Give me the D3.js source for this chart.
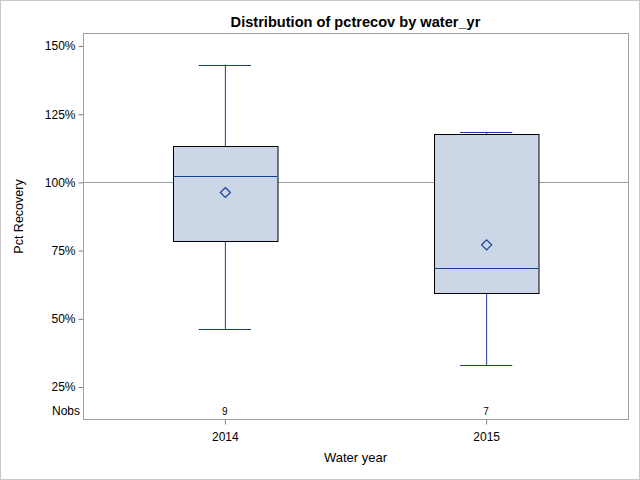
<html>
<head>
<script src="https://d3js.org/d3.v7.min.js"></script>
<style>
  body { margin: 0; background: #fff; }
  text { font-family: "Liberation Sans", Arial, sans-serif; fill: #000; }
</style>
</head>
<body>
<script>
    // data
    const years = ["2014", "2015"];
    const nobs = [9, 7];
    const mins = [46.2, 33.0];
    const q1s = [78.4, 59.4];
    const medians = [102.2, 68.5];
    const means = [96.3, 77.1];
    const q3s = [113.2, 117.6];
    const maxs = [143.2, 118.3];
    const yTicks = [25, 50, 75, 100, 125, 150];
    const refValue = 100;

    let width = 640, height = 480;
    let svg = d3.select("body").append("svg")
        .attr("width", width)
        .attr("height", height);

    // outer frame
    svg.append("rect")
        .attr("x", 0.5).attr("y", 0.5)
        .attr("width", width - 1).attr("height", height - 1)
        .attr("fill", "white").attr("stroke", "#c8c8c8");

    const pLeft = 83, pRight = 628, pTop = 33, pBottom = 419;

    let x = d3.scalePoint().domain(years).range([pLeft, pRight]).padding(0.543);
    let y = d3.scaleLinear().domain([25, 150]).range([387, 46]);
    let boxW = x.step() * 0.4;

    svg.append("text")
        .attr("x", (pLeft + pRight) / 2).attr("y", 27)
        .attr("text-anchor", "middle")
        .attr("font-size", 14.6).attr("font-weight", "bold")
        .text("Distribution of pctrecov by water_yr");

    // reference line
    svg.append("line")
        .attr("x1", pLeft).attr("x2", pRight)
        .attr("y1", Math.round(y(refValue)) + 0.5).attr("y2", Math.round(y(refValue)) + 0.5)
        .attr("stroke", "#a0a0a0");

    let data = years.map((yr, i) => ({
        yr: yr, n: nobs[i], min: mins[i], q1: q1s[i], med: medians[i],
        mean: means[i], q3: q3s[i], max: maxs[i]
    }));

    const blue = "#15409a";
    let g = svg.selectAll(".box").data(data).join("g").attr("class", "box");

    // whiskers
    g.append("line")
        .attr("x1", d => x(d.yr) + 0.5).attr("x2", d => x(d.yr) + 0.5)
        .attr("y1", d => y(d.max)).attr("y2", d => y(d.q3))
        .attr("stroke", blue);
    g.append("line")
        .attr("x1", d => x(d.yr) + 0.5).attr("x2", d => x(d.yr) + 0.5)
        .attr("y1", d => y(d.q1)).attr("y2", d => y(d.min))
        .attr("stroke", blue);
    g.selectAll(".cap").data(d => [d.min, d.max].map(v => ({yr: d.yr, v: v})))
        .join("line").attr("class", "cap")
        .attr("x1", d => x(d.yr) - boxW / 4).attr("x2", d => x(d.yr) + boxW / 4)
        .attr("y1", d => Math.round(y(d.v)) + 0.5).attr("y2", d => Math.round(y(d.v)) + 0.5)
        .attr("stroke", blue);

    // box
    g.append("rect")
        .attr("x", d => Math.round(x(d.yr) - boxW / 2) + 0.5)
        .attr("width", boxW)
        .attr("y", d => Math.round(y(d.q3)) + 0.5)
        .attr("height", d => Math.round(y(d.q1)) - Math.round(y(d.q3)))
        .attr("fill", "#cbd6e6").attr("stroke", "#000");

    // median
    g.append("line")
        .attr("x1", d => x(d.yr) - boxW / 2 + 1).attr("x2", d => x(d.yr) + boxW / 2)
        .attr("y1", d => Math.round(y(d.med)) + 0.5).attr("y2", d => Math.round(y(d.med)) + 0.5)
        .attr("stroke", blue);

    // mean diamond
    g.append("path")
        .attr("transform", d => `translate(${x(d.yr) + 0.5},${y(d.mean)})`)
        .attr("d", "M0,-5L5,0L0,5L-5,0Z")
        .attr("fill", "none").attr("stroke", blue).attr("stroke-width", 1.2);

    // y axis
    let yAxis = svg.append("g").attr("transform", `translate(${pLeft + 0.5},0)`)
        .call(d3.axisLeft(y).tickValues(yTicks).tickSize(5).tickPadding(3)
            .tickFormat(d => d + "%"));
    yAxis.select(".domain").remove();
    yAxis.selectAll(".tick line").attr("stroke", "#808080");
    yAxis.selectAll("text").attr("font-size", 12).attr("fill", "#000").attr("font-family", "Liberation Sans, Arial, sans-serif");

    // x axis
    let xAxis = svg.append("g").attr("transform", `translate(0,${pBottom + 0.5})`)
        .call(d3.axisBottom(x).tickSize(5).tickPadding(8));
    xAxis.select(".domain").remove();
    xAxis.selectAll(".tick line").attr("stroke", "#808080");
    xAxis.selectAll("text").attr("font-size", 12).attr("fill", "#000").attr("font-family", "Liberation Sans, Arial, sans-serif");

    // plot frame
    svg.append("rect")
        .attr("x", pLeft + 0.5).attr("y", pTop + 0.5)
        .attr("width", pRight - pLeft).attr("height", pBottom - pTop)
        .attr("fill", "none").attr("stroke", "#a0a0a0");

    // Nobs row
    svg.append("text")
        .attr("x", pLeft - 3).attr("y", 415)
        .attr("text-anchor", "end").attr("font-size", 12)
        .text("Nobs");
    svg.selectAll(".nobs").data(data).join("text").attr("class", "nobs")
        .attr("x", d => x(d.yr)).attr("y", 415)
        .attr("text-anchor", "middle").attr("font-size", 10)
        .text(d => d.n);

    // axis titles
    svg.append("text")
        .attr("x", (pLeft + pRight) / 2).attr("y", 462)
        .attr("text-anchor", "middle").attr("font-size", 13)
        .text("Water year");
    svg.append("text")
        .attr("transform", `translate(23,${(pTop + 400) / 2}) rotate(-90)`)
        .attr("text-anchor", "middle").attr("font-size", 12.5)
        .text("Pct Recovery");
</script>
</body>
</html>
